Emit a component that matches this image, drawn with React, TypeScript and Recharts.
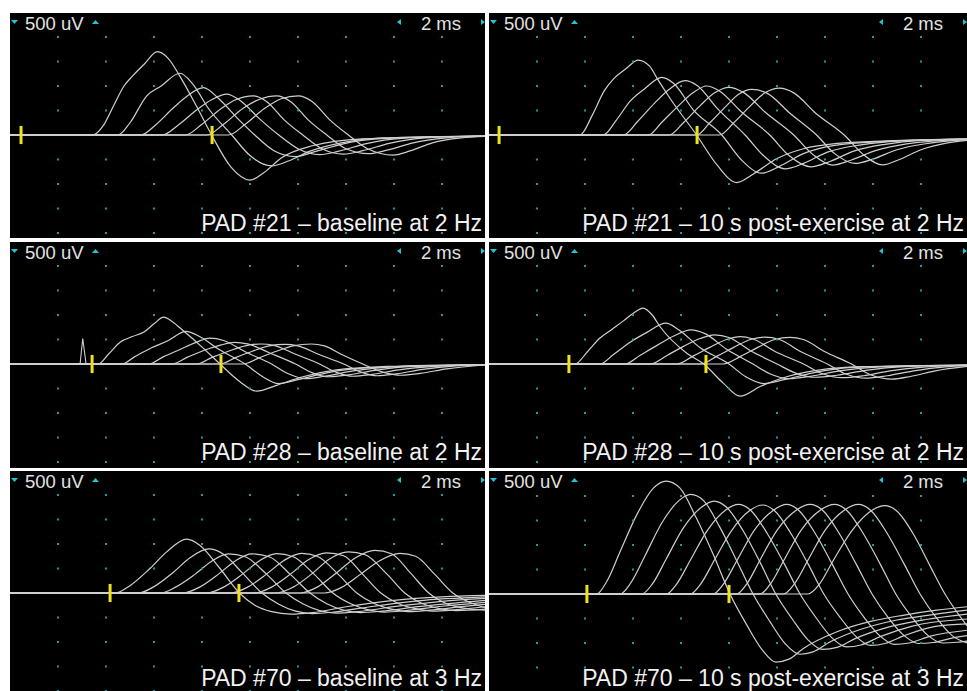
import React from "react";
import { ComposedChart, Line, Scatter, XAxis, YAxis, ReferenceLine } from "recharts";

type Pt = [number, number];

// scope graticule: 2 ms/div horizontally, 500 uV/div vertically
const PX_PER_MS = 24;
const PX_PER_UV = 24.5 / 500;
const gridMs = [2, 4, 6, 8, 10, 12, 14, 16, 18];
const gridUv = [-2000, -1500, -1000, -500, 500, 1000, 1500, 2000];
const voltLabel = "500 uV";
const timeLabel = "2 ms";

// latency cursors (ms)
const pad21BaseMarks = [0.46, 8.42];
const pad21PostMarks = [0.42, 8.67];
const pad28BaseMarks = [3.42, 8.79];
const pad28PostMarks = [3.33, 9.04];
const pad70BaseMarks = [4.17, 9.54];
const pad70PostMarks = [4.08, 10.0];

// stimulus artifact seen in PAD #28 baseline
const pad28Artifact: Pt[] = [[2.92, 0], [3.03, 520], [3.17, 0]];

const pad21Base: Pt[][] = [
  [[0, 0], [3.45, 0], [3.9, 200], [4.3, 580], [4.75, 1000], [5.1, 1200], [5.6, 1450], [6.14, 1700], [6.6, 1560], [7.1, 1180], [7.8, 560], [8.4, 0], [9.2, -650], [10.0, -920], [10.6, -760], [11.3, -470], [12.6, -220], [14.7, -80], [19.8, -20]],
  [[0, 0], [4.5, 0], [5.0, 250], [5.7, 800], [6.3, 1000], [7.08, 1260], [7.6, 1050], [8.3, 520], [9.24, 0], [10.0, -420], [10.9, -630], [11.6, -530], [12.5, -330], [13.8, -160], [15.5, -60], [19.8, -20]],
  [[0, 0], [5.45, 0], [6.1, 220], [6.8, 550], [7.4, 800], [8.06, 965], [8.7, 740], [9.5, 330], [10.2, 0], [11.0, -320], [11.9, -440], [12.7, -340], [13.8, -190], [15.3, -80], [19.8, -20]],
  [[0, 0], [6.35, 0], [7.0, 200], [7.8, 520], [8.4, 720], [9.03, 836], [9.6, 700], [10.4, 330], [11.2, 0], [12.0, -280], [12.9, -400], [13.7, -330], [14.8, -180], [16.3, -70], [19.8, -20]],
  [[0, 0], [7.3, 0], [8.0, 220], [8.8, 540], [9.4, 720], [10.14, 800], [10.7, 680], [11.4, 320], [12.2, 0], [13.0, -280], [13.9, -390], [14.7, -320], [15.8, -170], [17.3, -60], [19.8, -20]],
  [[0, 0], [8.2, 0], [8.9, 220], [9.7, 540], [10.4, 730], [11.11, 800], [11.7, 680], [12.4, 320], [13.2, 0], [14.0, -280], [14.95, -380], [15.7, -310], [16.8, -160], [18.2, -60], [19.8, -20]],
  [[0, 0], [9.1, 0], [9.8, 220], [10.6, 540], [11.3, 740], [12.01, 800], [12.6, 680], [13.3, 320], [14.1, 0], [14.9, -280], [15.97, -410], [16.7, -320], [17.6, -160], [18.8, -60], [19.8, -30]],
];

const pad21Post: Pt[][] = [
  [[0, 0], [3.79, 0], [4.3, 400], [4.8, 900], [5.2, 1150], [5.7, 1350], [6.22, 1530], [6.7, 1400], [7.0, 1160], [7.54, 750], [8.65, 0], [9.5, -610], [10.32, -970], [11.0, -800], [12.0, -480], [13.1, -280], [14.5, -170], [16.6, -120], [19.92, -80]],
  [[0, 0], [4.76, 0], [5.3, 300], [5.9, 700], [6.5, 950], [7.2, 1177], [7.7, 1050], [8.5, 520], [9.7, 0], [10.5, -500], [11.36, -780], [12.1, -640], [13.1, -380], [14.4, -210], [16.5, -130], [19.92, -85]],
  [[0, 0], [5.6, 0], [6.2, 280], [6.9, 650], [7.5, 930], [8.17, 1110], [8.7, 1000], [9.5, 550], [10.67, 0], [11.5, -450], [12.33, -690], [13.1, -580], [14.1, -350], [15.5, -200], [17.2, -120], [19.92, -85]],
  [[0, 0], [6.64, 0], [7.2, 260], [7.9, 600], [8.5, 860], [9.07, 1000], [9.6, 900], [10.5, 480], [11.7, 0], [12.5, -420], [13.4, -650], [14.2, -540], [15.2, -330], [16.5, -190], [18.0, -110], [19.92, -85]],
  [[0, 0], [7.5, 0], [8.1, 250], [8.8, 600], [9.4, 860], [10.0, 973], [10.6, 870], [11.5, 470], [12.7, 0], [13.5, -400], [14.3, -615], [15.1, -510], [16.1, -320], [17.4, -180], [19.92, -90]],
  [[0, 0], [8.65, 0], [9.2, 250], [9.9, 600], [10.4, 830], [10.95, 930], [11.6, 850], [12.5, 460], [13.65, 0], [14.4, -380], [15.25, -580], [16.0, -490], [17.0, -300], [18.3, -170], [19.92, -95]],
  [[0, 0], [9.6, 0], [10.2, 250], [10.9, 600], [11.5, 860], [12.1, 955], [12.7, 860], [13.6, 450], [14.8, 0], [15.6, -400], [16.4, -610], [17.1, -500], [18.0, -300], [19.0, -170], [19.92, -110]],
];

const pad28Base: Pt[][] = [
  [[0, 0], [3.68, 0], [4.1, 200], [4.6, 450], [5.1, 560], [5.6, 660], [6.0, 820], [6.4, 955], [6.8, 850], [7.1, 730], [8.06, 320], [8.75, 0], [9.58, -360], [10.28, -555], [11.1, -435], [12.2, -260], [13.6, -120], [15.7, -50], [19.8, -10]],
  [[0, 0], [4.65, 0], [5.2, 150], [5.9, 330], [6.6, 480], [7.33, 665], [7.9, 560], [8.7, 300], [9.8, 0], [10.5, -250], [11.2, -400], [12.0, -320], [13.2, -180], [14.8, -80], [19.8, -15]],
  [[0, 0], [5.76, 0], [6.4, 150], [7.1, 300], [7.7, 430], [8.33, 527], [8.9, 480], [9.8, 250], [10.9, 0], [11.6, -200], [12.3, -300], [13.1, -250], [14.3, -140], [15.9, -60], [19.8, -15]],
  [[0, 0], [6.74, 0], [7.4, 140], [8.1, 280], [8.8, 390], [9.35, 442], [9.9, 410], [10.8, 230], [11.9, 0], [12.6, -180], [13.3, -260], [14.1, -220], [15.2, -130], [16.8, -50], [19.8, -15]],
  [[0, 0], [7.78, 0], [8.4, 130], [9.1, 260], [9.8, 370], [10.45, 408], [11.0, 380], [11.8, 220], [12.9, 0], [13.6, -170], [14.3, -250], [15.1, -210], [16.2, -120], [17.7, -50], [19.8, -15]],
  [[0, 0], [8.75, 0], [9.4, 130], [10.1, 260], [10.8, 370], [11.45, 400], [12.0, 370], [12.8, 210], [13.9, 0], [14.6, -160], [15.3, -240], [16.1, -200], [17.2, -110], [18.6, -40], [19.8, -15]],
  [[0, 0], [9.72, 0], [10.4, 130], [11.1, 260], [11.8, 370], [12.55, 408], [13.1, 370], [13.8, 200], [14.7, 0], [15.5, -160], [16.3, -230], [17.1, -190], [18.2, -100], [19.8, -20]],
];

const pad28Post: Pt[][] = [
  [[0, 0], [3.58, 0], [4.1, 250], [4.6, 520], [5.1, 700], [5.6, 880], [6.0, 1030], [6.42, 1140], [6.8, 1000], [7.13, 760], [8.24, 220], [8.95, 0], [9.76, -390], [10.46, -655], [11.3, -460], [12.4, -260], [13.8, -120], [15.5, -55], [19.92, -20]],
  [[0, 0], [4.63, 0], [5.2, 200], [5.9, 450], [6.6, 650], [7.37, 833], [7.9, 700], [8.8, 330], [10.0, 0], [10.7, -260], [11.45, -400], [12.3, -320], [13.5, -180], [15.2, -70], [19.92, -20]],
  [[0, 0], [5.67, 0], [6.3, 180], [7.0, 380], [7.7, 570], [8.41, 697], [9.0, 620], [9.9, 300], [11.0, 0], [11.7, -200], [12.5, -300], [13.4, -250], [14.6, -140], [16.3, -60], [19.92, -20]],
  [[0, 0], [6.71, 0], [7.4, 170], [8.1, 360], [8.8, 520], [9.4, 595], [10.0, 540], [10.9, 270], [12.0, 0], [12.8, -190], [13.6, -270], [14.5, -230], [15.7, -130], [17.3, -55], [19.92, -25]],
  [[0, 0], [7.82, 0], [8.5, 160], [9.2, 340], [9.9, 500], [10.46, 560], [11.0, 510], [11.9, 260], [13.1, 0], [13.9, -200], [14.7, -280], [15.6, -240], [16.7, -140], [18.2, -60], [19.92, -30]],
  [[0, 0], [8.79, 0], [9.5, 160], [10.2, 340], [10.9, 500], [11.5, 548], [12.1, 500], [13.0, 250], [14.1, 0], [14.9, -210], [15.7, -290], [16.6, -240], [17.7, -140], [19.0, -60], [19.92, -35]],
  [[0, 0], [9.76, 0], [10.5, 160], [11.2, 340], [11.9, 500], [12.54, 544], [13.1, 500], [14.0, 250], [15.1, 0], [15.9, -220], [16.8, -310], [17.6, -250], [18.6, -140], [19.92, -50]],
];

const pad70Base: Pt[][] = [
  [[0, 0], [4.4, 0], [5.0, 150], [5.83, 500], [6.53, 840], [7.36, 1100], [7.92, 970], [8.75, 500], [9.56, 0], [10.2, -250], [10.9, -380], [11.7, -430], [12.6, -400], [14.0, -280], [16.0, -150], [18.0, -80], [19.8, -50]],
  [[0, 0], [5.35, 0], [6.0, 130], [6.8, 420], [7.5, 720], [8.28, 900], [8.9, 790], [9.7, 400], [10.5, 0], [11.2, -230], [11.9, -370], [12.6, -420], [13.5, -390], [15.0, -280], [17.0, -160], [19.8, -80]],
  [[0, 0], [6.25, 0], [6.9, 120], [7.7, 380], [8.4, 650], [9.1, 800], [9.8, 740], [10.7, 380], [11.5, 0], [12.2, -220], [12.9, -360], [13.6, -410], [14.5, -380], [16.0, -280], [18.0, -170], [19.8, -110]],
  [[0, 0], [7.2, 0], [7.9, 120], [8.7, 390], [9.4, 660], [10.07, 800], [10.8, 740], [11.7, 370], [12.5, 0], [13.2, -220], [13.9, -350], [14.6, -400], [15.5, -370], [17.0, -280], [19.8, -150]],
  [[0, 0], [8.2, 0], [8.9, 120], [9.7, 390], [10.4, 660], [11.1, 805], [11.8, 740], [12.7, 370], [13.45, 0], [14.2, -220], [14.9, -340], [15.6, -390], [16.5, -360], [18.0, -270], [19.8, -190]],
  [[0, 0], [9.2, 0], [9.9, 120], [10.7, 390], [11.4, 660], [12.15, 810], [12.8, 750], [13.7, 370], [14.45, 0], [15.2, -220], [15.9, -330], [16.6, -380], [17.5, -350], [18.8, -280], [19.8, -230]],
  [[0, 0], [10.2, 0], [10.9, 120], [11.7, 390], [12.4, 670], [13.2, 820], [13.9, 760], [14.7, 380], [15.45, 0], [16.2, -220], [16.9, -320], [17.6, -370], [18.6, -340], [19.8, -280]],
  [[0, 0], [11.1, 0], [11.8, 120], [12.6, 400], [13.3, 690], [14.1, 840], [14.8, 780], [15.7, 390], [16.45, 0], [17.2, -220], [17.9, -320], [18.6, -360], [19.8, -330]],
  [[0, 0], [12.1, 0], [12.8, 120], [13.6, 410], [14.4, 720], [15.2, 870], [15.9, 800], [16.7, 400], [17.45, 0], [18.2, -220], [18.9, -310], [19.8, -350]],
  [[0, 0], [13.1, 0], [13.8, 110], [14.6, 380], [15.4, 660], [16.25, 810], [16.9, 750], [17.7, 380], [18.45, 0], [19.2, -200], [19.8, -300]],
];

const pad70Post: Pt[][] = [
  [[0, 0], [4.49, 0], [4.9, 250], [5.46, 860], [6.15, 1610], [6.85, 2160], [7.38, 2305], [7.96, 2160], [8.65, 1540], [9.35, 800], [10.04, 0], [10.74, -630], [11.4, -1150], [11.95, -1390], [12.5, -1330], [13.1, -1110], [14.5, -770], [15.9, -560], [17.3, -430], [18.65, -330], [19.92, -260]],
  [[0, 0], [5.46, 0], [5.9, 220], [6.5, 780], [7.2, 1450], [7.9, 1900], [8.4, 2033], [8.95, 1900], [9.6, 1380], [10.3, 700], [11.0, 0], [11.7, -560], [12.35, -1020], [12.95, -1230], [13.5, -1180], [14.2, -980], [15.5, -720], [17.0, -530], [18.5, -420], [19.92, -330]],
  [[0, 0], [6.36, 0], [6.8, 200], [7.4, 730], [8.1, 1350], [8.85, 1770], [9.375, 1897], [9.9, 1770], [10.6, 1280], [11.3, 640], [11.95, 0], [12.65, -520], [13.3, -940], [13.9, -1130], [14.5, -1090], [15.3, -900], [16.6, -680], [18.2, -520], [19.92, -410]],
  [[0, 0], [7.4, 0], [7.8, 190], [8.4, 700], [9.1, 1300], [9.85, 1710], [10.39, 1829], [10.9, 1710], [11.6, 1230], [12.3, 620], [12.96, 0], [13.65, -500], [14.3, -900], [14.9, -1080], [15.5, -1040], [16.3, -870], [17.6, -660], [19.92, -510]],
  [[0, 0], [8.38, 0], [8.8, 190], [9.4, 700], [10.1, 1290], [10.85, 1700], [11.4, 1816], [11.9, 1700], [12.6, 1220], [13.3, 610], [13.95, 0], [14.65, -490], [15.3, -870], [15.9, -1050], [16.5, -1010], [17.3, -850], [18.6, -660], [19.92, -610]],
  [[0, 0], [9.35, 0], [9.75, 190], [10.35, 700], [11.05, 1300], [11.85, 1710], [12.4, 1829], [12.9, 1710], [13.6, 1230], [14.3, 610], [14.96, 0], [15.65, -490], [16.3, -860], [16.9, -1030], [17.5, -1000], [18.4, -860], [19.92, -740]],
  [[0, 0], [10.32, 0], [10.72, 190], [11.3, 700], [12.0, 1300], [12.8, 1710], [13.375, 1829], [13.9, 1710], [14.6, 1230], [15.3, 610], [15.96, 0], [16.65, -490], [17.3, -850], [17.9, -1010], [18.5, -990], [19.2, -910], [19.92, -850]],
  [[0, 0], [11.29, 0], [11.7, 190], [12.3, 700], [13.0, 1300], [13.8, 1710], [14.4, 1829], [14.9, 1710], [15.6, 1230], [16.3, 610], [16.95, 0], [17.65, -490], [18.3, -850], [18.9, -1000], [19.5, -985], [19.92, -960]],
  [[0, 0], [12.26, 0], [12.7, 190], [13.3, 700], [14.0, 1300], [14.8, 1710], [15.39, 1829], [15.9, 1710], [16.6, 1230], [17.3, 610], [17.96, 0], [18.65, -490], [19.3, -850], [19.92, -1000]],
  [[0, 0], [13.3, 0], [13.75, 190], [14.35, 690], [15.1, 1280], [15.9, 1690], [16.5, 1802], [17.0, 1690], [17.7, 1210], [18.35, 600], [19.0, 0], [19.92, -650]],
];

const FONT = "'Liberation Sans', Arial, sans-serif";
const TRACE = "#cfcfcf";
const CYAN = "#22c4d4";
const MARK_HALF = 185;

type PanelProps = {
  left: number;
  top: number;
  width: number;
  height: number;
  base: number;
  title: string;
  traces: Pt[][];
  marks: number[];
  extra?: Pt[];
};

const gridDots = gridMs.flatMap((x) => gridUv.map((y) => ({ x, y })));

const toRows = (pts: Pt[]) => pts.map(([x, y]) => ({ x, y }));

function GridDot(props: any) {
  const { cx, cy } = props;
  if (cx == null || cy == null) return null;
  return <rect x={cx - 1} y={cy - 1} width={2} height={2} fill="#1c9c9c" />;
}

function Panel({ left, top, width, height, base, title, traces, marks, extra }: PanelProps) {
  const yMax = base / PX_PER_UV;
  const yMin = -(height - base) / PX_PER_UV;
  const titleY = Math.min(217.5, height - 5.5);
  return (
    <div
      style={{
        position: "absolute",
        left,
        top,
        width,
        height,
        background: "#000",
        overflow: "hidden"
      }}
    >
      <ComposedChart width={width} height={height} margin={{ top: 0, right: 0, bottom: 0, left: 0 }}>
        <XAxis type="number" dataKey="x" domain={[0, width / PX_PER_MS]} hide allowDataOverflow />
        <YAxis type="number" domain={[yMin, yMax]} hide allowDataOverflow />
        <Scatter data={gridDots} dataKey="y" shape={GridDot} isAnimationActive={false} />
        {traces.map((t, i) => (
          <Line
            key={i}
            data={toRows(t)}
            dataKey="y"
            type="monotone"
            stroke={TRACE}
            strokeWidth={1.2}
            dot={false}
            activeDot={false}
            isAnimationActive={false}
          />
        ))}
        {extra && (
          <Line
            data={toRows(extra)}
            dataKey="y"
            type="linear"
            stroke={TRACE}
            strokeWidth={1.1}
            dot={false}
            activeDot={false}
            isAnimationActive={false}
          />
        )}
        {marks.map((m) => (
          <ReferenceLine
            key={m}
            segment={[
              { x: m, y: -MARK_HALF },
              { x: m, y: MARK_HALF }
            ]}
            stroke="#eee21c"
            strokeWidth={3}
          />
        ))}
      </ComposedChart>
      <svg
        width={width}
        height={height}
        style={{ position: "absolute", left: 0, top: 0, pointerEvents: "none" }}
      >
        <polygon points="1,7 8,7 4.5,11" fill={CYAN} />
        <text x={15} y={17} fill="#e2e2e2" fontFamily={FONT} fontSize={18.5}>
          {voltLabel}
        </text>
        <polygon points="82,11 89,11 85.5,7" fill={CYAN} />
        <polygon points={`${width - 84},6 ${width - 88},9 ${width - 84},12`} fill={CYAN} />
        <text x={width - 24} y={17} fill="#e2e2e2" fontFamily={FONT} fontSize={18.5} textAnchor="end">
          {timeLabel}
        </text>
        <polygon points={`${width - 4},6 ${width},9 ${width - 4},12`} fill={CYAN} />
        <text x={width - 3} y={titleY} fill="#f2f2f2" fontFamily={FONT} fontSize={23} textAnchor="end">
          {title}
        </text>
      </svg>
    </div>
  );
}

export default function App() {
  return (
    <div style={{ position: "absolute", left: 0, top: 0, width: 967, height: 691, background: "#fff", overflow: "hidden" }}>
      <Panel left={10} top={13} width={475} height={225} base={122} title="PAD #21 – baseline at 2 Hz" traces={pad21Base} marks={pad21BaseMarks} />
      <Panel left={489} top={13} width={478} height={225} base={122} title="PAD #21 – 10 s post-exercise at 2 Hz" traces={pad21Post} marks={pad21PostMarks} />
      <Panel left={10} top={242} width={475} height={226} base={122} title="PAD #28 – baseline at 2 Hz" traces={pad28Base} marks={pad28BaseMarks} extra={pad28Artifact} />
      <Panel left={489} top={242} width={478} height={226} base={122} title="PAD #28 – 10 s post-exercise at 2 Hz" traces={pad28Post} marks={pad28PostMarks} />
      <Panel left={10} top={471} width={475} height={220} base={122} title="PAD #70 – baseline at 3 Hz" traces={pad70Base} marks={pad70BaseMarks} />
      <Panel left={489} top={471} width={478} height={220} base={123} title="PAD #70 – 10 s post-exercise at 3 Hz" traces={pad70Post} marks={pad70PostMarks} />
    </div>
  );
}
